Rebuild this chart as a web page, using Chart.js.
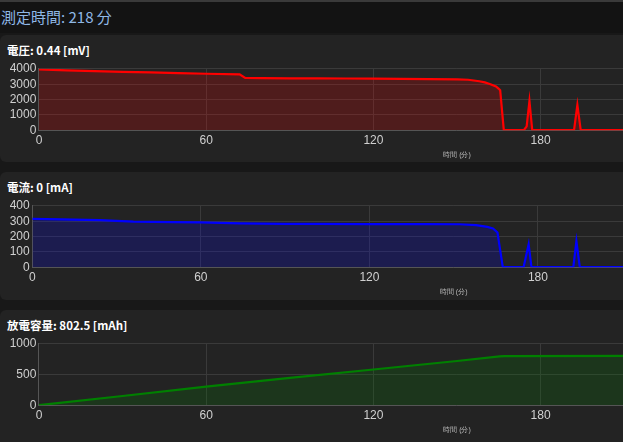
<!DOCTYPE html>
<html>
<head>
<meta charset="utf-8">
<script src="https://cdn.jsdelivr.net/npm/chart.js@4"></script>
<style>
    html, body { margin: 0; padding: 0; }
    body {
        width: 623px;
        height: 442px;
        overflow: hidden;
        background: #181818;
        font-family: "Noto Sans CJK JP", "Noto Sans", sans-serif;
    }
    .header {
        height: 31px;
        border-top: 2px solid #3a3a3a;
        background: #131313;
        color: #8fb8e6;
        font-size: 15px;
        line-height: 30px;
        padding-left: 1px;
        white-space: nowrap;
    }
    .card {
        width: 900px;
        background: #232323;
        border-radius: 6px;
        box-sizing: border-box;
        padding: 7px 0 0 7px;
    }
    .card h3 {
        margin: 0;
        font-size: 11.5px;
        line-height: 16px;
        font-weight: bold;
        color: #ffffff;
        white-space: nowrap;
    }
    .chartBox {
        position: relative;
        width: 881px;
        height: 100px;
        margin-top: 0.5px;
    }
</style>
</head>
<body>
<div class="header">測定時間: 218 分</div>
<div class="card" style="margin-top:2px;height:127px;">
    <h3>電圧: 0.44 [mV]</h3>
    <div class="chartBox"><canvas id="chartVoltage"></canvas></div>
</div>
<div class="card" style="margin-top:10px;height:128px;">
    <h3>電流: 0 [mA]</h3>
    <div class="chartBox"><canvas id="chartCurrent"></canvas></div>
</div>
<div class="card" style="margin-top:10px;height:140px;">
    <h3>放電容量: 802.5 [mAh]</h3>
    <div class="chartBox"><canvas id="chartCapacity"></canvas></div>
</div>
<script>
// time (min) / value pairs
var voltageTime = [0, 10, 20, 30, 40, 50, 60, 72, 74, 80, 90, 100, 110, 120, 130, 140, 150, 154, 158, 160, 162, 164, 165, 165.5, 166.8, 174, 175, 176, 177, 192, 193.2, 194.4, 218];
var voltageValue = [3960, 3900, 3850, 3800, 3765, 3720, 3680, 3637, 3403, 3395, 3385, 3380, 3370, 3360, 3350, 3330, 3310, 3290, 3190, 3120, 3000, 2850, 2700, 2600, 0, 0, 250, 1900, 0, 0, 1650, 0, 0];

var currentTime = [0, 10, 24, 36, 50, 60, 74, 90, 102, 120, 140, 152, 158, 162, 164, 165.6, 167.5, 174.9, 176.7, 177.7, 192.6, 193.7, 194.9, 218];
var currentValue = [315, 312, 307, 297, 294, 292, 286, 283, 282, 281, 281, 280, 274, 263, 253, 226, 0, 0, 149, 0, 0, 170, 0, 0];

var capacityTime = [0, 30, 60, 90, 120, 150, 165.3, 167, 218];
var capacityValue = [0, 150, 302, 445, 582, 720, 795, 800, 802.5];

var xTicks = [0, 60, 120, 180, 240, 300];
var xAxisTitle = '時間 (分)';

Chart.defaults.font.family = 'Arial, "Liberation Sans", sans-serif';

function toPoints(times, values) {
    var pts = [];
    for (var i = 0; i < times.length; i++) {
        pts.push({ x: times[i], y: values[i] });
    }
    return pts;
}

function makeChart(id, times, values, lineColor, fillColor, yMax, yStep) {
    var canvas = document.getElementById(id);
    return new Chart(canvas, {
        type: 'line',
        data: {
            datasets: [{
                data: toPoints(times, values),
                borderColor: lineColor,
                backgroundColor: fillColor,
                borderWidth: 2.2,
                pointRadius: 0,
                fill: 'origin',
                tension: 0
            }]
        },
        options: {
            responsive: true,
            maintainAspectRatio: false,
            animation: false,
            plugins: {
                legend: { display: false },
                tooltip: { enabled: false }
            },
            scales: {
                x: {
                    type: 'linear',
                    min: xTicks[0],
                    max: xTicks[xTicks.length - 1],
                    ticks: {
                        stepSize: 60,
                        color: '#d0d0d0',
                        font: { size: 12 },
                        padding: 3,
                        maxRotation: 0,
                        callback: function (v) { return String(v); }
                    },
                    grid: { color: '#3a3a3a', drawTicks: false },
                    border: { color: '#555555' },
                    title: {
                        display: true,
                        text: xAxisTitle,
                        color: '#bbbbbb',
                        font: { size: 7 },
                        padding: { top: 0, bottom: 0 }
                    }
                },
                y: {
                    min: 0,
                    max: yMax,
                    ticks: {
                        stepSize: yStep,
                        autoSkip: false,
                        color: '#d0d0d0',
                        font: { size: 12 },
                        padding: 2.65,
                        callback: function (v) { return String(v); }
                    },
                    grid: { color: '#3a3a3a', drawTicks: false },
                    border: { color: '#555555' }
                }
            }
        }
    });
}

makeChart('chartVoltage', voltageTime, voltageValue, '#ff0000', 'rgba(255, 0, 0, 0.2)', 4000, 1000);
makeChart('chartCurrent', currentTime, currentValue, '#0000ff', 'rgba(0, 0, 255, 0.2)', 400, 100);
makeChart('chartCapacity', capacityTime, capacityValue, '#008000', 'rgba(0, 128, 0, 0.2)', 1000, 500);
</script>
</body>
</html>
